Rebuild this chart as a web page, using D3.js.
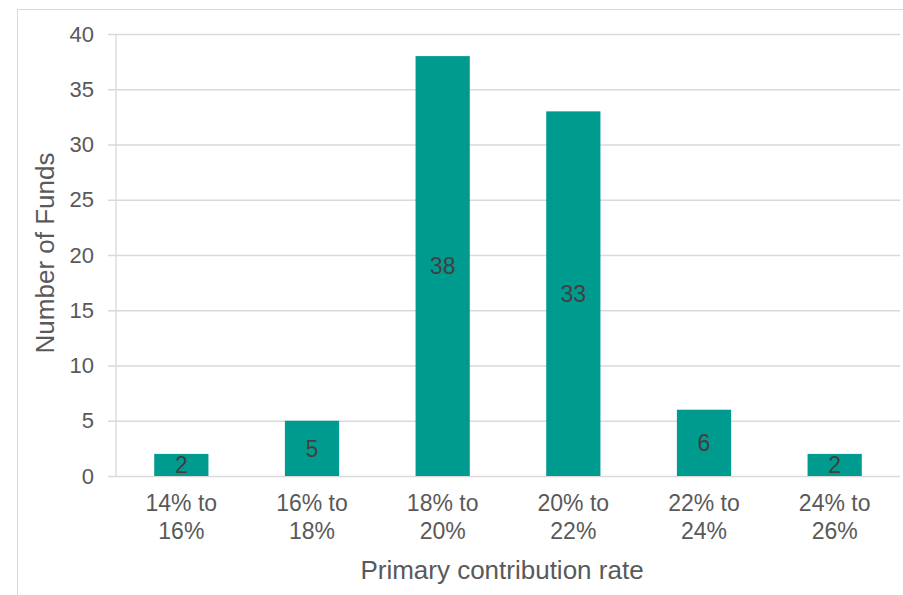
<!DOCTYPE html>
<html>
<head>
<meta charset="utf-8">
<script src="https://cdn.jsdelivr.net/npm/d3@7"></script>
<style>
  body { margin: 0; background: #fff; }
  svg { display: block; font-family: "Liberation Sans", Arial, sans-serif; }
</style>
</head>
<body>
<svg width="903" height="595"></svg>
<script>
var categories = [["14% to", "16%"], ["16% to", "18%"], ["18% to", "20%"],
                  ["20% to", "22%"], ["22% to", "24%"], ["24% to", "26%"]];
var funds = [2, 5, 38, 33, 6, 2];
var yTicks = [0, 5, 10, 15, 20, 25, 30, 35, 40];
var yTitle = "Number of Funds";
var xTitle = "Primary contribution rate";

var plotLeft = 116, plotRight = 900, plotTop = 34, plotBottom = 476;
var barColor = "#009b8f";
var gridColor = "#d9d9d9";

var svg = d3.select("svg");

// chart frame (only left and top edges show)
svg.append("rect")
  .attr("x", 17.5).attr("y", 9.5)
  .attr("width", 1000).attr("height", 1000)
  .attr("fill", "none").attr("stroke", gridColor);

var x = d3.scaleBand()
  .domain(d3.range(funds.length))
  .range([plotLeft, plotRight])
  .paddingInner(0.585)
  .paddingOuter(0.2925);

var y = d3.scaleLinear().domain([0, 40]).range([plotBottom, plotTop]);

// gridlines
var gy = svg.append("g")
  .attr("transform", "translate(" + plotRight + ",0)")
  .call(d3.axisLeft(y).tickValues(yTicks).tickSize(plotRight - 108).tickFormat(""));
gy.select(".domain").remove();
gy.selectAll(".tick line").attr("stroke", gridColor).attr("stroke-width", 1.3);

svg.append("line")
  .attr("x1", plotLeft).attr("x2", plotLeft)
  .attr("y1", plotTop).attr("y2", plotBottom)
  .attr("stroke", gridColor).attr("stroke-width", 1.3);

// y labels
svg.append("g").selectAll("text")
  .data(yTicks)
  .enter().append("text")
  .attr("x", 94)
  .attr("y", function(d){ return y(d); })
  .attr("dy", "0.35em")
  .attr("text-anchor", "end")
  .attr("font-size", 22)
  .attr("fill", "#595959")
  .text(function(d){ return d; });

// bars
svg.append("g").selectAll("rect")
  .data(funds)
  .enter().append("rect")
  .attr("x", function(d, i){ return x(i); })
  .attr("y", function(d){ return y(d); })
  .attr("width", x.bandwidth())
  .attr("height", function(d){ return y(0) - y(d); })
  .attr("fill", barColor);

// bar value labels
svg.append("g").selectAll("text")
  .data(funds)
  .enter().append("text")
  .attr("x", function(d, i){ return x(i) + x.bandwidth() / 2; })
  .attr("y", function(d){ return (y(d) + y(0)) / 2; })
  .attr("dy", "0.36em")
  .attr("text-anchor", "middle")
  .attr("font-size", 23)
  .attr("fill", "#404040")
  .text(function(d){ return d; });

// x category labels
var xl = svg.append("g").selectAll("text")
  .data(categories)
  .enter().append("text")
  .attr("text-anchor", "middle")
  .attr("font-size", 23)
  .attr("fill", "#595959");
xl.each(function(d, i){
  var t = d3.select(this);
  d.forEach(function(line, j){
    t.append("tspan")
      .attr("x", x(i) + x.bandwidth() / 2)
      .attr("y", 511 + j * 28)
      .text(line);
  });
});

// axis titles
svg.append("text")
  .attr("x", 502)
  .attr("y", 579)
  .attr("text-anchor", "middle")
  .attr("font-size", 26)
  .attr("fill", "#595959")
  .text(xTitle);

svg.append("text")
  .attr("transform", "translate(54,253) rotate(-90)")
  .attr("text-anchor", "middle")
  .attr("font-size", 26)
  .attr("fill", "#595959")
  .text(yTitle);
</script>
</body>
</html>
